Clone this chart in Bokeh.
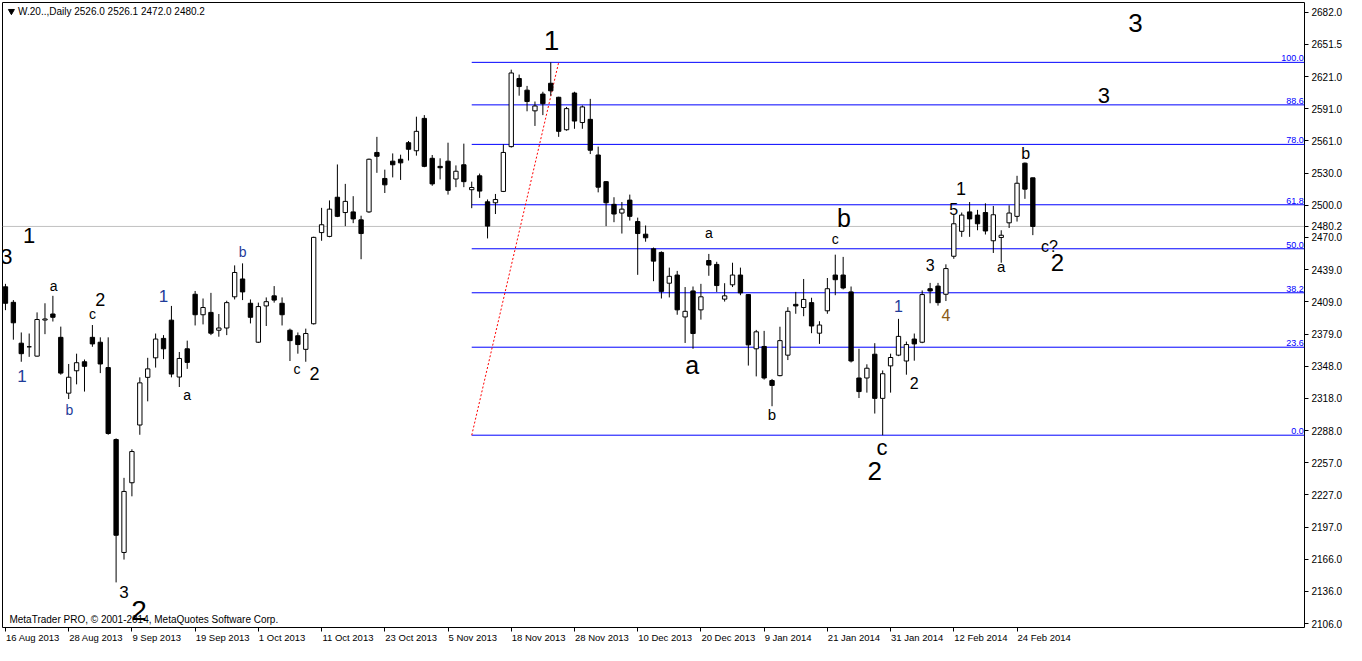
from bokeh.plotting import figure
from bokeh.models import Range1d, FixedTicker, ColumnDataSource, Label, LinearAxis
from bokeh.core.properties import value
from bokeh.embed import file_html
from bokeh.resources import INLINE

# ---------------- data (daily candles, W.20.., 16 Aug 2013 - 26 Feb 2014) ----------------
opens = [2423.3, 2408.7, 2370.2, 2366.8, 2358.0, 2392.0, 2397.7, 2375.7, 2323.1, 2344.2,
         2352.7, 2375.7, 2371.1, 2347.2, 2279.4, 2173.0, 2238.7, 2293.1, 2338.0, 2356.4,
         2374.7, 2391.9, 2338.3, 2364.9, 2416.3, 2397.0, 2399.2, 2382.4, 2384.5, 2413.9,
         2430.7, 2407.8, 2371.1, 2405.3, 2414.8, 2407.8, 2382.4, 2377.2, 2364.4, 2388.5,
         2474.4, 2470.8, 2507.7, 2493.3, 2493.9, 2486.4, 2493.9, 2549.9, 2525.4, 2541.7,
         2543.5, 2559.1, 2551.5, 2582.0, 2544.4, 2536.8, 2541.7, 2524.9, 2538.3, 2514.8,
         2527.9, 2503.4, 2502.5, 2513.2, 2555.4, 2619.6, 2608.6, 2589.1, 2604.9, 2615.1,
         2601.9, 2571.3, 2605.9, 2578.1, 2581.1, 2547.5, 2522.4, 2501.0, 2492.8, 2505.0,
         2484.8, 2472.9, 2459.1, 2455.7, 2426.7, 2434.4, 2394.9, 2419.4, 2401.6, 2448.1,
         2444.4, 2411.7, 2425.2, 2434.4, 2416.0, 2364.9, 2367.1, 2335.0, 2339.6, 2358.9,
         2406.8, 2403.8, 2408.4, 2379.6, 2400.7, 2434.4, 2434.4, 2418.5, 2337.4, 2337.4,
         2359.8, 2318.2, 2348.8, 2358.9, 2353.4, 2374.1, 2371.1, 2421.5, 2424.0, 2416.3,
         2452.1, 2475.6, 2493.9, 2490.9, 2493.3, 2466.7, 2469.8, 2483.6, 2489.7, 2539.8,
         2526.0]
highs = [2426.1, 2410.8, 2380.3, 2379.3, 2399.2, 2407.8, 2414.8, 2385.8, 2350.6, 2360.3,
         2354.8, 2387.3, 2375.7, 2375.7, 2280.5, 2243.3, 2270.2, 2338.0, 2356.4, 2379.3,
         2377.8, 2405.3, 2361.9, 2372.6, 2419.4, 2412.3, 2417.6, 2397.7, 2410.2, 2443.5,
         2445.4, 2411.4, 2408.4, 2413.3, 2424.0, 2413.3, 2383.9, 2380.3, 2383.9, 2470.5,
         2497.7, 2504.7, 2538.6, 2520.3, 2508.7, 2490.3, 2544.1, 2564.6, 2533.7, 2549.0,
         2547.8, 2560.7, 2583.6, 2585.1, 2547.5, 2544.4, 2559.1, 2537.7, 2558.2, 2522.4,
         2530.0, 2505.6, 2510.8, 2557.5, 2627.9, 2623.3, 2612.6, 2597.9, 2607.1, 2634.8,
         2602.4, 2592.8, 2607.1, 2594.2, 2600.4, 2555.4, 2523.0, 2507.7, 2503.2, 2510.2,
         2488.5, 2481.1, 2460.3, 2456.7, 2441.4, 2438.3, 2423.1, 2423.6, 2426.1, 2454.3,
         2446.9, 2426.7, 2446.0, 2441.4, 2416.5, 2382.7, 2381.8, 2336.5, 2385.7, 2404.1,
         2418.5, 2430.7, 2413.0, 2390.9, 2431.6, 2453.6, 2451.5, 2423.6, 2364.9, 2350.3,
         2370.2, 2344.5, 2360.3, 2393.1, 2371.7, 2379.3, 2419.9, 2427.0, 2427.0, 2444.5,
         2490.9, 2493.3, 2503.2, 2495.8, 2502.0, 2499.5, 2476.6, 2500.1, 2527.9, 2540.4,
         2526.1]
lows = [2401.3, 2373.5, 2352.7, 2357.3, 2357.5, 2378.7, 2390.6, 2340.5, 2317.6, 2331.4,
        2324.6, 2366.8, 2342.0, 2283.9, 2144.8, 2166.3, 2225.9, 2283.9, 2315.4, 2347.2,
        2355.2, 2338.0, 2328.9, 2346.0, 2386.9, 2387.9, 2377.8, 2376.3, 2377.8, 2411.4,
        2410.8, 2388.8, 2370.4, 2386.4, 2408.4, 2386.9, 2353.4, 2360.3, 2352.7, 2387.8,
        2466.7, 2470.0, 2489.0, 2480.5, 2483.3, 2449.3, 2493.0, 2530.7, 2511.7, 2526.4,
        2524.0, 2542.3, 2546.9, 2536.0, 2518.5, 2524.5, 2510.2, 2517.2, 2517.2, 2497.4,
        2507.1, 2468.9, 2491.9, 2512.6, 2554.5, 2603.4, 2588.7, 2574.9, 2585.1, 2603.4,
        2564.6, 2570.4, 2572.2, 2572.2, 2548.4, 2512.3, 2480.5, 2484.2, 2473.5, 2485.7,
        2434.6, 2465.8, 2428.6, 2412.3, 2413.3, 2397.0, 2370.4, 2364.9, 2392.4, 2433.7,
        2418.5, 2409.4, 2423.1, 2415.4, 2349.1, 2338.9, 2335.9, 2310.8, 2339.0, 2354.3,
        2397.9, 2395.6, 2379.6, 2369.5, 2397.9, 2415.4, 2420.9, 2352.0, 2318.5, 2323.6,
        2303.9, 2283.5, 2323.6, 2358.0, 2340.5, 2353.7, 2370.2, 2407.8, 2405.6, 2409.9,
        2449.7, 2470.4, 2470.4, 2476.6, 2472.6, 2455.2, 2446.0, 2478.7, 2484.8, 2506.2,
        2472.0]
closes = [2407.8, 2389.4, 2360.3, 2366.8, 2392.5, 2393.0, 2394.6, 2342.0, 2338.1, 2351.8,
          2348.4, 2369.5, 2350.6, 2285.1, 2189.2, 2230.5, 2268.1, 2332.8, 2346.0, 2374.1,
          2364.9, 2341.1, 2355.8, 2352.1, 2397.0, 2403.8, 2379.6, 2384.5, 2408.4, 2436.8,
          2418.5, 2394.6, 2404.7, 2409.3, 2410.8, 2397.0, 2372.6, 2368.9, 2379.3, 2469.9,
          2481.8, 2496.5, 2489.7, 2503.8, 2487.3, 2473.5, 2543.5, 2546.3, 2519.4, 2538.3,
          2540.1, 2552.9, 2569.8, 2536.8, 2520.3, 2535.5, 2514.2, 2532.2, 2522.4, 2516.9,
          2513.5, 2480.5, 2505.6, 2549.9, 2624.8, 2612.0, 2597.9, 2593.7, 2595.8, 2608.0,
          2569.8, 2591.2, 2579.5, 2592.8, 2552.0, 2517.2, 2502.5, 2491.9, 2496.5, 2489.7,
          2473.5, 2469.5, 2447.5, 2419.0, 2433.2, 2401.6, 2400.2, 2379.3, 2413.9, 2443.8,
          2424.5, 2414.8, 2434.4, 2417.6, 2368.6, 2380.9, 2337.4, 2330.4, 2372.6, 2400.2,
          2405.3, 2411.4, 2386.4, 2387.3, 2421.5, 2430.0, 2422.2, 2353.4, 2324.6, 2346.6,
          2318.2, 2341.4, 2356.7, 2376.6, 2368.9, 2369.5, 2416.0, 2419.4, 2408.4, 2440.5,
          2482.7, 2490.9, 2487.3, 2482.7, 2475.9, 2491.2, 2471.9, 2492.8, 2520.9, 2515.3,
          2480.2]

date_tick_bars = [0, 8, 16, 24, 32, 40, 48, 56, 64, 72, 80, 88, 96, 104, 112, 120, 128]
date_labels = ["16 Aug 2013", "28 Aug 2013", "9 Sep 2013", "19 Sep 2013", "1 Oct 2013",
               "11 Oct 2013", "23 Oct 2013", "5 Nov 2013", "18 Nov 2013", "28 Nov 2013",
               "10 Dec 2013", "20 Dec 2013", "9 Jan 2014", "21 Jan 2014", "31 Jan 2014",
               "12 Feb 2014", "24 Feb 2014"]

price_labels = ["2106.0", "2136.0", "2166.0", "2197.0", "2227.0", "2257.0", "2288.0",
                "2318.0", "2348.0", "2379.0", "2409.0", "2439.0", "2470.0", "2500.0",
                "2530.0", "2561.0", "2591.0", "2621.0", "2651.5", "2682.0"]
price_axis_min = 2106.0
price_axis_max = 2682.0

fib_levels = [0.0, 23.6, 38.2, 50.0, 61.8, 78.0, 88.6, 100.0]
fib_low = 2283.5
fib_high = 2634.8
fib_bar_low = 59
fib_bar_high = 70

last_price = 2480.2
header_text = "W.20..,Daily  2526.0 2526.1 2472.0 2480.2"
copyright_text = "MetaTrader PRO, \u00a9 2001-2014, MetaQuotes Software Corp."

# Elliott wave labels: text, bar, price
wave_text = ["1", "3", "3", "b", "a", "c", "2", "2", "1", "3", "2", "3", "2", "2", "c", "c",
             "a", "1", "b", "1", "a", "b", "a", "c", "b", "1", "2", "3", "4", "5", "1", "a",
             "b", "c?"]
wave_bar = [69.1, 143.0, 139.0, 106.1, 86.9, 110.9, 110.0, 133.1, 3.0, 0.1, 16.9, 15.0,
            12.0, 39.1, 36.9, 11.0, 6.1, 2.1, 8.1, 20.0, 23.0, 30.0, 89.0, 105.0, 97.0,
            113.0, 115.0, 117.0, 119.0, 120.0, 120.9, 126.0, 129.1, 132.1]
wave_price = [2655.4, 2671.9, 2604.0, 2488.5, 2349.5, 2271.5, 2250.0, 2446.3, 2472.0,
              2451.9, 2117.9, 2135.4, 2411.4, 2341.7, 2345.4, 2397.7, 2424.3, 2338.9,
              2306.9, 2415.1, 2321.6, 2456.4, 2473.8, 2468.3, 2303.2, 2405.0, 2332.6,
              2443.5, 2396.7, 2496.7, 2516.0, 2442.6, 2549.0, 2461.4]
# styles for the wave labels
wave_size = ["28px", "26px", "22px", "25px", "25px", "22px", "26px", "24px", "22px", "22px",
             "28px", "17px", "18px", "18px", "14px", "14px", "14px", "17px", "14px", "17px",
             "14px", "14px", "14px", "14px", "15px", "16px", "16px", "16px", "16px", "16px",
             "18px", "15px", "16px", "16px"]
NAVY = "#1f3c99"
wave_color = ["black", "black", "black", "black", "black", "black", "black", "black",
              "black", "black", "black", "black", "black", "black", "black", "black",
              "black", NAVY, NAVY, NAVY, "black", NAVY, "black", "black", "black",
              NAVY, "black", "black", "#8a5a14", "black", "black", "black", "black", "black"]

# ---------------- figure ----------------
X0, X1 = -0.375, 164.375
Y0, Y1 = 2102.3, 2691.2
W, H = 1346, 645
p = figure(width=W, height=H, x_range=Range1d(X0, X1), y_range=Range1d(Y0, Y1),
           y_axis_location="right", output_backend="svg", toolbar_location=None,
           min_border_left=2, min_border_top=2, min_border_right=42, min_border_bottom=16)
p.outline_line_color = "black"
p.outline_line_width = 1
p.xgrid.visible = False
p.ygrid.visible = False
p.background_fill_color = "white"
p.border_fill_color = "white"

AX_FONT = "Liberation Sans"

# price scale (with the current price as an extra tick)
step = (price_axis_max - price_axis_min) / (len(price_labels) - 1)
ticks = [price_axis_min + k * step for k in range(len(price_labels))]
overrides = {t: lab for t, lab in zip(ticks, price_labels)}
overrides[last_price] = "%.1f" % last_price
p.yaxis.ticker = FixedTicker(ticks=ticks + [last_price])
p.yaxis.major_label_overrides = overrides
p.yaxis.minor_tick_line_color = None
p.yaxis.major_tick_in = 0
p.yaxis.major_tick_out = 4
p.yaxis.axis_line_color = None
p.yaxis.major_label_text_font = AX_FONT
p.yaxis.major_label_text_font_size = "10px"
p.yaxis.major_label_text_color = "black"
p.yaxis.major_label_standoff = 3

# time scale: tick marks at the bars, labels starting at the tick (left aligned)
ax_ticks = p.xaxis[0]
ax_ticks.ticker = FixedTicker(ticks=date_tick_bars)
ax_ticks.major_label_overrides = {b: "" for b in date_tick_bars}
ax_ticks.major_label_text_font_size = "1px"
ax_ticks.major_label_standoff = 0
ax_ticks.minor_tick_line_color = None
ax_ticks.major_tick_in = 0
ax_ticks.major_tick_out = 4
ax_ticks.axis_line_color = None

ARIAL_W = {" ": 278, ".": 278, "A": 667, "S": 667, "O": 778, "N": 722, "D": 722, "J": 500,
           "F": 611, "u": 556, "g": 556, "e": 556, "p": 556, "c": 500, "t": 278, "o": 556,
           "v": 500, "a": 556, "n": 556, "b": 556}
DATE_FS = 9.5
frame_w = W - 2 - 42
px_per_bar = frame_w / (X1 - X0)
centers = []
for b, lab in zip(date_tick_bars, date_labels):
    wpx = sum(ARIAL_W.get(ch, 556) for ch in lab) / 1000.0 * DATE_FS
    centers.append(b + (wpx / 2.0 + 0.5) / px_per_bar)
ax_lab = LinearAxis(ticker=FixedTicker(ticks=centers),
                    major_label_overrides={c: lab for c, lab in zip(centers, date_labels)})
ax_lab.major_tick_in = 0
ax_lab.major_tick_out = 0
ax_lab.minor_tick_line_color = None
ax_lab.axis_line_color = None
ax_lab.major_label_standoff = 0
ax_lab.major_label_text_font = AX_FONT
ax_lab.major_label_text_font_size = "%.1fpx" % DATE_FS
ax_lab.major_label_text_color = "black"
p.add_layout(ax_lab, "below")

# current price line
p.segment(x0=[X0], y0=[last_price], x1=[X1], y1=[last_price], line_color="#c0c0c0", line_width=1)

# fibonacci retracement
fib_prices = [fib_low + lv / 100.0 * (fib_high - fib_low) for lv in fib_levels]
p.segment(x0=[fib_bar_low] * len(fib_prices), y0=fib_prices, x1=[X1] * len(fib_prices),
          y1=fib_prices, line_color="#0000ff", line_width=1)
p.text(x=[X1 - 0.1] * len(fib_prices), y=fib_prices, text=["%.1f" % lv for lv in fib_levels],
       text_align="right", text_baseline="bottom", text_font=value(AX_FONT),
       text_font_size="9px", text_color="#0000ff", y_offset=-1)
p.segment(x0=[fib_bar_low], y0=[fib_low], x1=[fib_bar_high], y1=[fib_high],
          line_color="red", line_width=1, line_dash="2 2")

# candles
n = len(opens)
idx = list(range(n))
up = [c >= o for o, c in zip(opens, closes)]
src = ColumnDataSource(dict(
    x=idx, o=opens, h=highs, l=lows, c=closes,
    top=[max(o, c) for o, c in zip(opens, closes)],
    bot=[min(o, c) for o, c in zip(opens, closes)],
    fill=["white" if u else "black" for u in up]))
p.segment(x0="x", y0="l", x1="x", y1="h", source=src, line_color="black", line_width=1)
p.vbar(x="x", width=0.55, top="top", bottom="bot", source=src, fill_color="fill",
       line_color="black", line_width=1)

# wave labels
wsrc = ColumnDataSource(dict(x=wave_bar, y=wave_price, t=wave_text, s=wave_size, c=wave_color))
p.text(x="x", y="y", text="t", text_font_size="s", text_color="c", source=wsrc,
       text_align="center", text_baseline="middle", text_font=value("Liberation Sans"))

# header and footer
p.scatter(x=[0.75], y=[2683.0], marker="inverted_triangle", size=6, color="black")
p.add_layout(Label(x=1.6, y=2683.0, text=header_text, text_font=AX_FONT, text_font_size="10px",
                   text_baseline="middle", text_align="left", text_color="black"))
p.add_layout(Label(x=0.5, y=Y0, y_offset=3, text=copyright_text, text_font=AX_FONT,
                   text_font_size="10px", text_baseline="bottom", text_align="left",
                   text_color="black"))

open("out.html", "w").write(file_html(p, INLINE))
